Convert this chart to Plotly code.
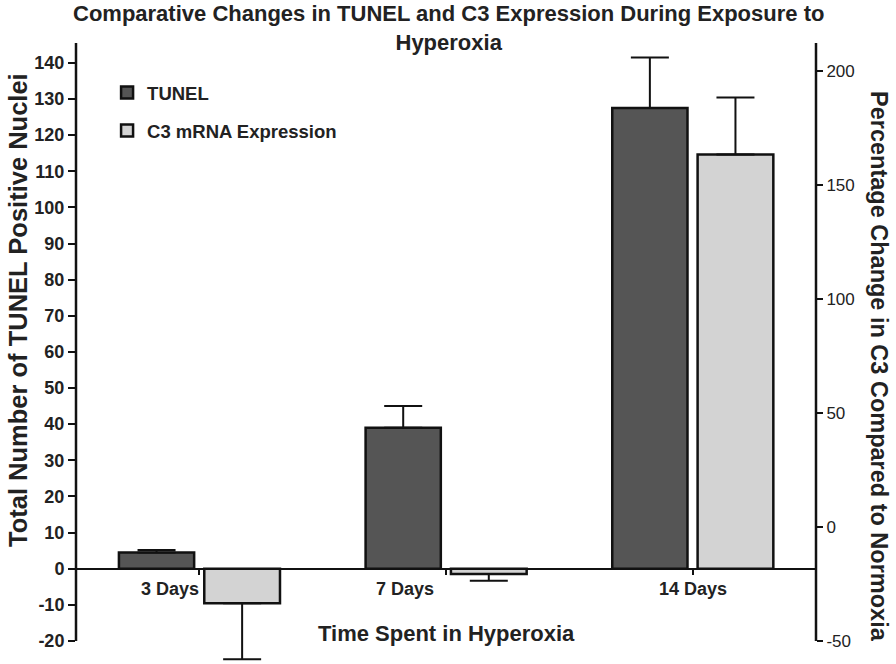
import plotly.graph_objects as go

# ---- data ----
TITLE = "Comparative Changes in TUNEL and C3 Expression During Exposure to<br>Hyperoxia"
X_TITLE = "Time Spent in Hyperoxia"
Y_TITLE = "Total Number of TUNEL Positive Nuclei"
Y2_TITLE = "Percentage Change in C3 Compared to Normoxia"
categories = ["3 Days", "7 Days", "14 Days"]
tunel_values = [4.5, 39.0, 127.5]
tunel_errors = [0.7, 6.0, 14.0]
c3_values = [-33.5, -20.6, 163.5]
c3_errors = [24.5, 3.0, 25.0]
left_ticks = list(range(-20, 141, 10))
right_ticks = [-50, 0, 50, 100, 150, 200]

# ---- axis alignment: left -20 <-> right -50, left 145.5 <-> right 212.4 ----
L0, L1, R0, R1 = -20.0, 145.5, -50.0, 212.4


def left_to_right(v):
    return R0 + (v - L0) / (L1 - L0) * (R1 - R0)


# extra room below the axes so the lowest error bar is not clipped
left_range = [-26.1, L1]
right_range = [left_to_right(left_range[0]), R1]
c3_base = left_to_right(0)  # C3 bars start at the left-axis zero line

c3_plus = [e if v >= c3_base else 0 for v, e in zip(c3_values, c3_errors)]
c3_minus = [e if v < c3_base else 0 for v, e in zip(c3_values, c3_errors)]

FONT = "Liberation Sans, Arial, sans-serif"
INK = "#111111"
TXT = "#222222"
W, H = 896, 664
MT, MB, ML, MR = 43, 1, 76, 80
plot_h = H - MT - MB


def py(pixel_y):
    """paper y for a pixel row"""
    return (H - MB - pixel_y) / plot_h


fig = go.Figure()
fig.add_trace(go.Bar(
    x=categories, y=tunel_values, name="<b>TUNEL</b>",
    marker=dict(color="#555555", line=dict(color=INK, width=2.5)),
    width=0.305, offset=-0.326,
    error_y=dict(type="data", array=tunel_errors, symmetric=False,
                 arrayminus=[0] * len(tunel_errors),
                 color=INK, thickness=2, width=19),
    yaxis="y", legendgroup="a",
))
fig.add_trace(go.Bar(
    x=categories, y=[v - c3_base for v in c3_values], base=c3_base,
    name="<b>C3 mRNA Expression</b>",
    marker=dict(color="#d3d3d3", line=dict(color=INK, width=2.5)),
    width=0.307, offset=0.02,
    error_y=dict(type="data", array=c3_plus, arrayminus=c3_minus, symmetric=False,
                 color=INK, thickness=2, width=19),
    yaxis="y2", legendgroup="b",
))

zero_frac = (0 - left_range[0]) / (left_range[1] - left_range[0])

xshifts = [-29, -41, 0]
annotations = [
    dict(x=c, y=0, xref="x", yref="y", text=f"<b>{c}</b>", showarrow=False,
         xanchor="center", yanchor="top", xshift=s, yshift=-8,
         font=dict(family=FONT, size=18, color=TXT))
    for c, s in zip(categories, xshifts)
]
annotations += [
    dict(x=0.5, y=py(-1), xref="paper", yref="paper", text=f"<b>{TITLE}</b>",
         showarrow=False, xanchor="center", yanchor="top", xshift=2,
         font=dict(family=FONT, size=22, color=TXT)),
    dict(x=0.5, y=py(633), xref="paper", yref="paper", text=f"<b>{X_TITLE}</b>",
         showarrow=False, xanchor="center", yanchor="middle",
         font=dict(family=FONT, size=22, color=TXT)),
    dict(x=0, y=py(310), xref="paper", yref="paper", text=f"<b>{Y_TITLE}</b>",
         showarrow=False, xanchor="center", yanchor="middle", textangle=-90, xshift=-58,
         font=dict(family=FONT, size=25.5, color=TXT)),
    dict(x=1, y=py(366), xref="paper", yref="paper", text=f"<b>{Y2_TITLE}</b>",
         showarrow=False, xanchor="center", yanchor="middle", textangle=90, xshift=63,
         font=dict(family=FONT, size=23.5, color=TXT)),
]

shapes = [
    dict(type="line", xref="paper", yref="y", x0=0, x1=0, y0=left_ticks[0], y1=left_range[1],
         line=dict(color=INK, width=2.5)),
    dict(type="line", xref="paper", yref="y2", x0=1, x1=1, y0=right_ticks[0], y1=right_range[1],
         line=dict(color=INK, width=2.5)),
]

fig.update_layout(
    width=W, height=H,
    margin=dict(l=ML, r=MR, t=MT, b=MB),
    paper_bgcolor="white", plot_bgcolor="white",
    barmode="overlay",
    font=dict(family=FONT, color=TXT),
    xaxis=dict(type="category", range=[-0.5, 2.5], anchor="free", position=zero_frac,
               showline=True, linecolor=INK, linewidth=2,
               ticks="outside", ticklen=5, tickwidth=2, tickcolor=INK,
               showticklabels=False, showgrid=False, zeroline=False),
    yaxis=dict(range=left_range, tickvals=left_ticks,
               ticktext=[f"<b>{v}</b>" for v in left_ticks],
               showline=False, ticks="outside", ticklen=7, tickwidth=2, tickcolor=INK,
               showgrid=False, zeroline=False,
               tickfont=dict(family=FONT, size=18, color=TXT)),
    yaxis2=dict(range=right_range, tickvals=right_ticks,
                ticktext=[str(v) for v in right_ticks],
                overlaying="y", side="right", showline=False,
                ticks="outside", ticklen=6, tickwidth=2, tickcolor=INK,
                showgrid=False, zeroline=False,
                tickfont=dict(family=FONT, size=17, color=TXT)),
    legend=dict(x=0.042, y=py(74), xanchor="left", yanchor="top", bgcolor="rgba(0,0,0,0)",
                traceorder="grouped", tracegroupgap=11,
                font=dict(family=FONT, size=18.5, color=TXT)),
    annotations=annotations,
    shapes=shapes,
)

fig.write_html("out.html")
